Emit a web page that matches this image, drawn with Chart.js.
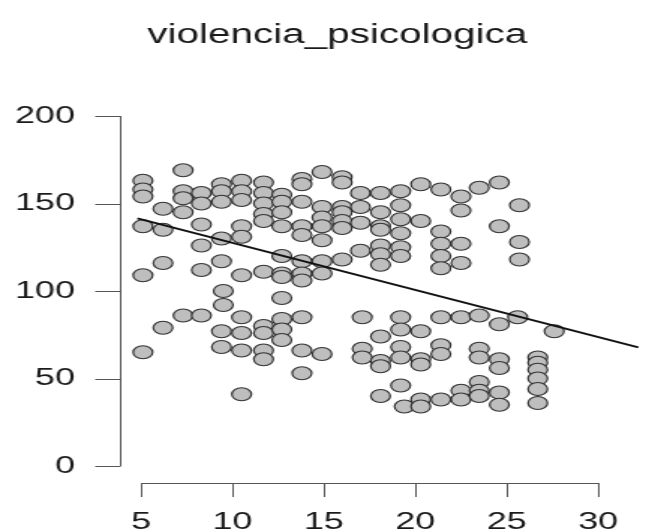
<!DOCTYPE html>
<html>
<head>
<meta charset="utf-8">
<script src="https://cdn.jsdelivr.net/npm/chart.js@4.4.0/dist/chart.umd.min.js"></script>
<style>
    html, body { margin: 0; padding: 0; background: #fff; overflow: hidden; }
    /* el original está estirado en horizontal */
    #wrap { width: 443px; height: 532px; transform: scaleX(1.4989); transform-origin: 0 0; }
</style>
</head>
<body>
<div id="wrap"><canvas id="scatterChart" width="443" height="532"></canvas></div>
<script>
const chartTitle = 'violencia_psicologica';
const xTicks = [5, 10, 15, 20, 25, 30];
const yTicks = [0, 50, 100, 150, 200];

// puntos (x, y), por columnas
const xValues = [
    5.1, 5.1, 5.1, 5.1, 5.1, 5.1,
    6.2, 6.2, 6.2, 6.2,
    7.3, 7.3, 7.3, 7.3, 7.3,
    8.3, 8.3, 8.3, 8.3, 8.3, 8.3,
    9.4, 9.4, 9.4, 9.4, 9.4, 9.4, 9.4, 9.5, 9.5,
    10.5, 10.5, 10.5, 10.5, 10.5, 10.5, 10.5, 10.5, 10.5, 10.5,
    11.7, 11.7, 11.7, 11.7, 11.7, 11.7, 11.7, 11.7, 11.7, 11.7,
    12.7, 12.7, 12.7, 12.7, 12.7, 12.7, 12.7, 12.7, 12.7, 12.7, 12.7,
    13.8, 13.8, 13.8, 13.8, 13.8, 13.8, 13.8, 13.8, 13.8, 13.8, 13.8,
    14.9, 14.9, 14.9, 14.9, 14.9, 14.9, 14.9, 14.9,
    16.0, 16.0, 16.0, 16.0, 16.0, 16.0, 16.0,
    17.0, 17.0, 17.0, 17.0, 17.1, 17.1, 17.1,
    18.1, 18.1, 18.1, 18.1, 18.1, 18.1, 18.1, 18.1, 18.1, 18.1, 18.1,
    19.2, 19.2, 19.2, 19.2, 19.2, 19.2, 19.2, 19.2, 19.2, 19.2, 19.2, 19.4,
    20.3, 20.3, 20.3, 20.3, 20.3, 20.3, 20.3,
    21.4, 21.4, 21.4, 21.4, 21.4, 21.4, 21.4, 21.4, 21.4,
    22.5, 22.5, 22.5, 22.5, 22.5, 22.5, 22.5,
    23.5, 23.5, 23.5, 23.5, 23.5, 23.5, 23.5,
    24.6, 24.6, 24.6, 24.6, 24.6, 24.6, 24.6,
    25.7, 25.7, 25.7, 25.6,
    26.7, 26.7, 26.7, 26.7, 26.7, 26.7,
    27.6
];
const yValues = [
    163, 158, 154, 137, 109, 65,
    147, 135, 116, 79,
    169, 157, 153, 145, 86,
    156, 150, 138, 126, 112, 86,
    161, 157, 151, 130, 117, 77, 68, 100, 92,
    163, 157, 152, 137, 131, 109, 85, 76, 66, 41,
    162, 156, 150, 144, 140, 111, 80, 76, 66, 61,
    155, 151, 145, 137, 120, 110, 108, 96, 84, 78, 72,
    164, 161, 151, 137, 132, 117, 110, 106, 85, 66, 53,
    168, 148, 142, 137, 129, 117, 110, 64,
    165, 162, 148, 145, 140, 136, 118,
    156, 148, 139, 123, 85, 67, 62,
    156, 145, 137, 135, 126, 121, 115, 74, 60, 57, 40,
    157, 149, 141, 133, 125, 120, 85, 78, 68, 62, 46, 34,
    161, 140, 77, 61, 58, 38, 34,
    158, 134, 127, 120, 113, 85, 69, 64, 38,
    154, 146, 127, 116, 85, 43, 38,
    159, 86, 67, 62, 48, 43, 40,
    162, 137, 81, 61, 56, 42, 35,
    149, 128, 118, 85,
    62, 59, 55, 50, 44, 36,
    77
];

// recta de regresión (extremos)
const fitX = [4.8, 32.2];
const fitY = [141.5, 67.8];

const fontFamily = '"Liberation Sans", Arial, sans-serif';

// ejes al estilo de R: separados del área de datos
const rAxesPlugin = {
    id: 'rAxes',
    afterDraw(chart) {
        const ctx = chart.ctx;
        const xs = chart.scales.x;
        const ys = chart.scales.y;
        const axisLeft = chart.chartArea.left;
        const axisBottom = chart.chartArea.bottom + 17;

        ctx.save();
        ctx.strokeStyle = '#555';
        ctx.lineWidth = 1;

        // eje y
        const yTop = ys.getPixelForValue(yTicks[yTicks.length - 1]);
        const yBot = ys.getPixelForValue(yTicks[0]);
        ctx.beginPath();
        ctx.moveTo(axisLeft + 0.5, yTop);
        ctx.lineTo(axisLeft + 0.5, yBot);
        yTicks.forEach(v => {
            const py = Math.round(ys.getPixelForValue(v)) + 0.5;
            ctx.moveTo(axisLeft - 16.5, py);
            ctx.lineTo(axisLeft + 0.5, py);
        });
        ctx.stroke();

        // eje x
        const xL = xs.getPixelForValue(xTicks[0]);
        const xR = xs.getPixelForValue(xTicks[xTicks.length - 1]);
        ctx.beginPath();
        ctx.moveTo(xL, axisBottom + 0.5);
        ctx.lineTo(xR, axisBottom + 0.5);
        xTicks.forEach(v => {
            const px = Math.round(xs.getPixelForValue(v)) + 0.5;
            ctx.moveTo(px, axisBottom);
            ctx.lineTo(px, axisBottom + 14);
        });
        ctx.stroke();

        // etiquetas
        ctx.fillStyle = '#1a1a1a';
        ctx.font = '24px ' + fontFamily;
        ctx.textAlign = 'right';
        ctx.textBaseline = 'middle';
        yTicks.forEach(v => {
            ctx.fillText(String(v), axisLeft - 30, ys.getPixelForValue(v));
        });
        ctx.textAlign = 'center';
        xTicks.forEach(v => {
            ctx.fillText(String(v), xs.getPixelForValue(v), axisBottom + 39);
        });

        // título
        ctx.font = '27px ' + fontFamily;
        ctx.textBaseline = 'alphabetic';
        ctx.fillText(chartTitle, 225, 43);
        ctx.restore();
    }
};

document.addEventListener('DOMContentLoaded', function() {
    const ctx = document.getElementById('scatterChart').getContext('2d');

    const points = xValues.map((x, i) => ({ x: x, y: yValues[i] }));
    const fitLine = fitX.map((x, i) => ({ x: x, y: fitY[i] }));

    new Chart(ctx, {
        type: 'scatter',
        data: {
            datasets: [{
                type: 'line',
                data: fitLine,
                borderColor: '#111',
                borderWidth: 2,
                pointRadius: 0,
                fill: false,
                clip: false,
                order: 0
            }, {
                data: points,
                backgroundColor: '#bebebe',
                borderColor: '#333',
                borderWidth: 1.2,
                pointRadius: 6.5,
                pointHoverRadius: 6.5,
                clip: false,
                order: 1
            }]
        },
        options: {
            responsive: false,
            animation: false,
            devicePixelRatio: 1,
            events: [],
            layout: {
                autoPadding: false,
                padding: { left: 80, right: 0, top: 116, bottom: 66 }
            },
            plugins: {
                legend: { display: false },
                tooltip: { enabled: false },
                title: { display: false }
            },
            scales: {
                x: { type: 'linear', min: 3.844, max: 33.608, display: false },
                y: { type: 'linear', min: 0, max: 200, display: false }
            }
        },
        plugins: [rAxesPlugin]
    });
});
</script>
</body>
</html>
